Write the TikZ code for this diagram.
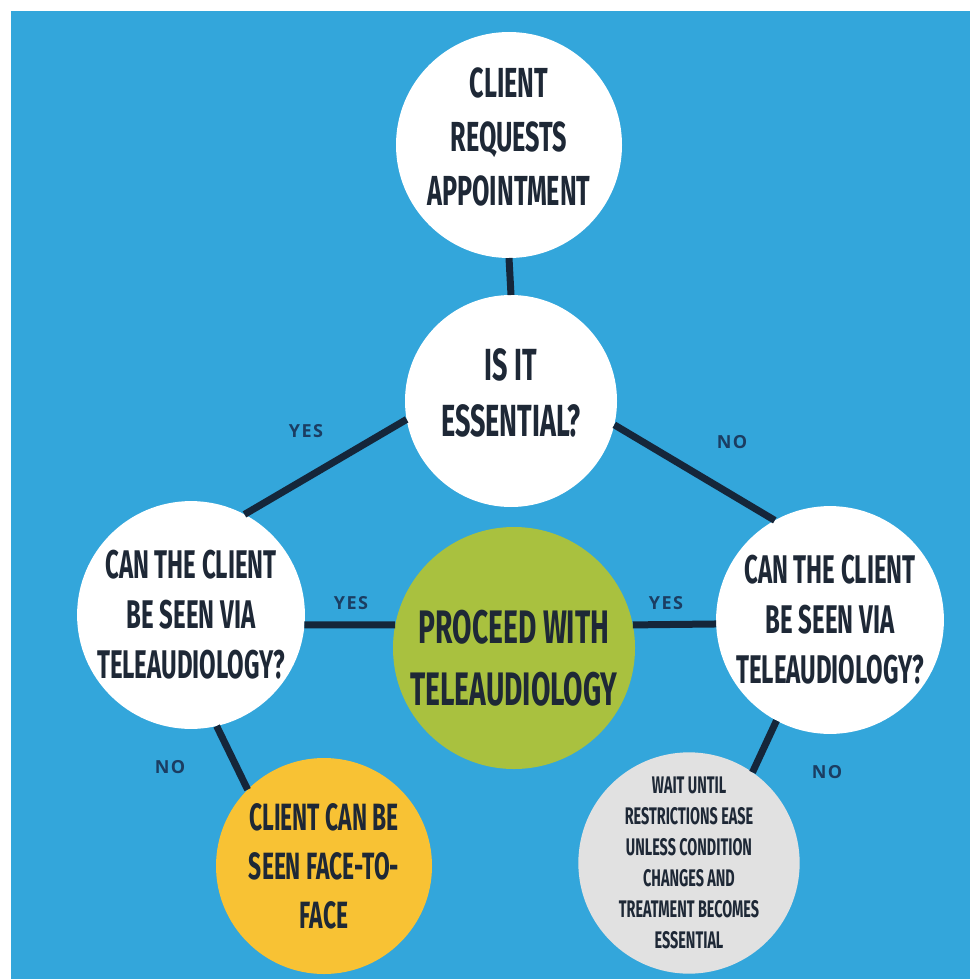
\documentclass[tikz,border=0pt]{standalone}
\usepackage{fontspec}
\newfontfamily\bebas[FakeStretch=0.6]{Fira Sans}
\newfontfamily\opensans[LetterSpace=8]{Open Sans}
\definecolor{sfondo}{HTML}{33A6DB}
\definecolor{linea}{HTML}{15263A}
\definecolor{testo}{HTML}{1E2836}
\definecolor{etich}{HTML}{1B3D62}
\definecolor{verde}{HTML}{A9C13F}
\definecolor{giallo}{HTML}{F8C234}
\definecolor{grigio}{HTML}{E1E1E1}
% spazio in piu' sopra (giu) o sotto (su) il testo
\newcommand{\giu}[1]{\rule{0pt}{#1}}
\newcommand{\su}[1]{\rule[-#1]{0pt}{0pt}}
\begin{document}
\begin{tikzpicture}[x=1pt, y=-1pt,
    bolla/.style={circle, minimum size=#1, inner sep=0pt, outer sep=0pt,
      align=center, text=testo},
    freccia/.style={line width=7pt, color=linea},
    risposta/.style={text=etich, font=\opensans\bfseries\fontsize{18}{20}\selectfont}]

    % Sfondo
    \fill[white] (0,0) rectangle (970,979);
    \fill[sfondo] (11,11) rectangle (970,979);

    % Cerchi
    \node[bolla=226, fill=white, font=\bebas\bfseries\fontsize{42}{54}\selectfont]
      (richiesta) at (509,145) {CLIENT\\REQUESTS\\APPOINTMENT\su{16pt}};
    \node[bolla=212, fill=white, font=\bebas\bfseries\fontsize{45}{56}\selectfont]
      (essenziale) at (511,401) {IS IT\\ESSENTIAL?\su{16pt}};
    \node[bolla=224, fill=white, font=\bebas\bfseries\fontsize{40}{50}\selectfont]
      (viasx) at (191,615) {CAN THE CLIENT\\BE SEEN VIA\\TELEAUDIOLOGY?};
    \node[bolla=224, fill=white, font=\bebas\bfseries\fontsize{40}{50}\selectfont]
      (viadx) at (830,620) {CAN THE CLIENT\\BE SEEN VIA\\TELEAUDIOLOGY?};
    \node[bolla=242, fill=verde, font=\bebas\bfseries\fontsize{47}{62}\selectfont]
      (procedi) at (514,648) {\giu{54pt}PROCEED WITH\\TELEAUDIOLOGY};
    \node[bolla=216, fill=giallo, font=\bebas\bfseries\fontsize{38}{49}\selectfont]
      (faccia) at (324,866) {CLIENT CAN BE\\SEEN FACE-TO-\\FACE};
    \node[bolla=214, fill=grigio, font=\bebas\bfseries\fontsize{24}{31}\selectfont]
      (attesa) at (689,863) {WAIT UNTIL\\RESTRICTIONS EASE\\UNLESS CONDITION\\CHANGES AND\\TREATMENT BECOMES\\ESSENTIAL};

    % Collegamenti
    \draw[freccia] (richiesta.south) -- (essenziale.north);
    \draw[freccia] (essenziale.190) -- (viasx.62);
    \draw[freccia] (essenziale.-13) -- (viadx.119);
    \draw[freccia] (viasx.-5) -- (procedi.169);
    \draw[freccia] (procedi.11) -- (viadx.182);
    \draw[freccia] (viasx.-77) -- (faccia.135);
    \draw[freccia] (viadx.242) -- (attesa.55);

    % Etichette
    \node[risposta] (si1) at (306,431) {YES};
    \node[risposta] (no1) at (732,442) {NO};
    \node[risposta] (si2) at (351,603) {YES};
    \node[risposta] (si3) at (666,603) {YES};
    \node[risposta] (no2) at (170,767) {NO};
    \node[risposta] (no3) at (827,772) {NO};
\end{tikzpicture}
\end{document}
